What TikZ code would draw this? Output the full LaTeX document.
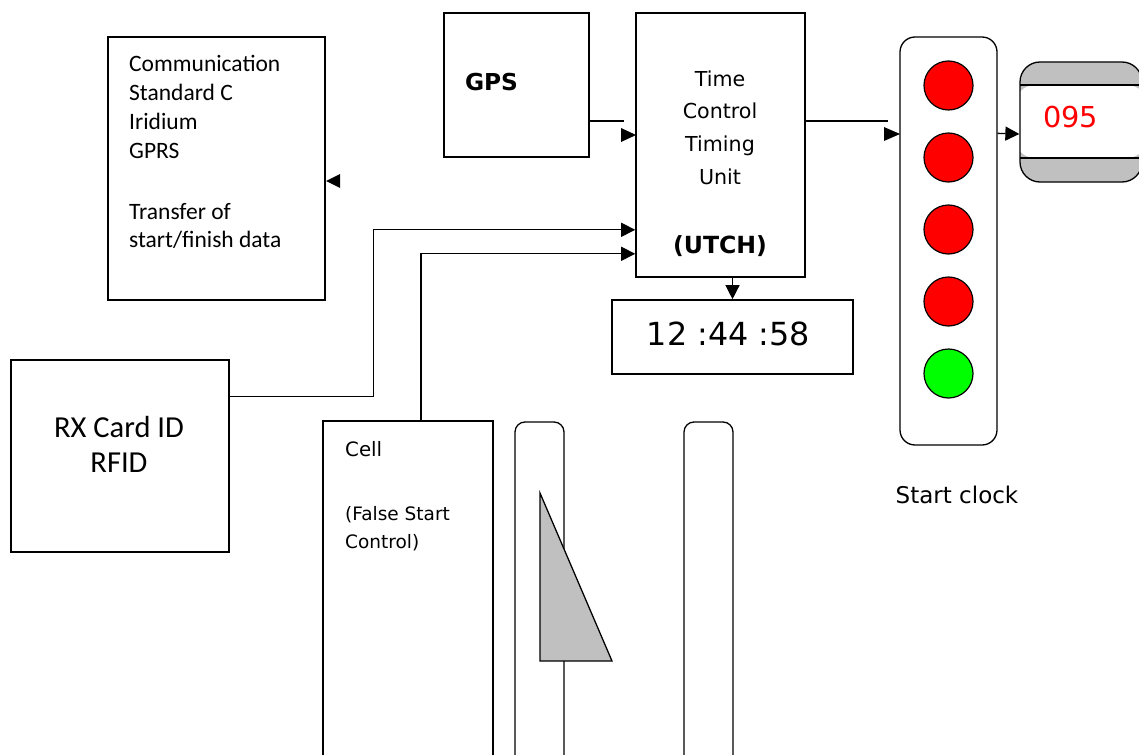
\documentclass[tikz,border=0pt]{standalone}
\usepackage{fontspec}
\usetikzlibrary{arrows.meta,calc}
\newfontfamily\carl{Carlito}
\newfontfamily\dvs{DejaVu Sans}
\definecolor{lgrey}{RGB}{192,192,192}
\definecolor{lred}{RGB}{255,0,0}
\definecolor{lgreen}{RGB}{0,255,0}
\newcommand{\fs}[1]{\fontsize{#1}{#1}\selectfont}
\begin{document}
\begin{tikzpicture}[x=1pt,y=-1pt,
  box/.style={draw,line width=1.6pt,rectangle,inner sep=0pt},
  rbox/.style={draw,line width=1.3pt,rectangle,rounded corners=#1,inner sep=0pt},
  lamp/.style={draw,line width=1.2pt,circle,inner sep=0pt,minimum size=49pt},
  conn/.style={line width=1.3pt},
  arr/.style={line width=1.3pt,-{Triangle[length=14pt,width=14pt]}},
  tip/.style={fill=black},
  txt/.style={inner sep=0pt,anchor=base},
  ltxt/.style={inner sep=0pt,anchor=base west}]
\useasboundingbox (0,0) rectangle (1139,754);
\clip (0,0) rectangle (1139,754);
% boxes
\node[box,minimum width=217pt,minimum height=263pt] (comm) at (216.5,168.5) {};
\node[box,minimum width=145pt,minimum height=144pt] (gps) at (516.5,85) {};
\node[box,minimum width=169pt,minimum height=264pt] (utch) at (720.5,145) {};
\node[box,minimum width=241pt,minimum height=74pt] (disp) at (732.5,337) {};
\node[box,minimum width=218pt,minimum height=192pt] (rfid) at (120,456) {};
\node[box,minimum width=170pt,minimum height=360pt] (cell) at (408,601) {};
\node[rbox=10pt,minimum width=49pt,minimum height=360pt] (bar1) at (539.5,602) {};
\node[rbox=10pt,minimum width=49pt,minimum height=360pt] (bar2) at (708.5,602) {};
\fill[lgrey,draw=black,line width=1.3pt,line join=miter] (540,493) -- (540,661) -- (612,661) -- cycle;
% start clock housing and lamps
\node[rbox=15pt,minimum width=97pt,minimum height=408pt] (housing) at (948.5,241) {};
\node[lamp,fill=lred] (l1) at (948.5,85.5) {};
\node[lamp,fill=lred] (l2) at (948.5,157.5) {};
\node[lamp,fill=lred] (l3) at (948.5,229.5) {};
\node[lamp,fill=lred] (l4) at (948.5,301.5) {};
\node[lamp,fill=lgreen] (l5) at (948.5,373.5) {};
% counter
\node[rbox=20pt,fill=lgrey,minimum width=122pt,minimum height=120pt,
  path picture={
    \fill[white] ($(path picture bounding box.north west)+(-5,23)$) rectangle ($(path picture bounding box.south east)+(5,-24)$);
    \draw[line width=2pt] ($(path picture bounding box.north west)+(-5,23)$) -- ($(path picture bounding box.north east)+(5,23)$)
      ($(path picture bounding box.south west)+(-5,-24)$) -- ($(path picture bounding box.south east)+(5,-24)$);}] (counter) at (1081,122) {};
% connectors
\draw[conn] ($(gps.east)+(0,36)$) -- ++(34,0);
\fill[tip] (621,128) -- (636,135) -- (621,142) -- cycle;
\draw[conn] ($(utch.east)+(0,-24)$) -- ++(82,0);
\fill[tip] (884,127) -- (900,134) -- (884,141) -- cycle;
\draw[arr] ($(housing.north east)+(0,97)$) -- ($(counter.west)+(0,12)$);
\fill[tip] (340,174) -- (326,181) -- (340,188) -- cycle;
\draw[arr] ($(rfid.north east)+(0,37)$) -- ++(144,0) |- ($(utch.south west)+(0,-48)$);
\draw[arr] ($(cell.north)+(13,0)$) |- ($(utch.south west)+(0,-24)$);
\draw[arr] (disp.north |- utch.south) -- (disp.north);
% texts
\node[ltxt,font=\carl\fs{23.5}] (t1) at (129,72) {Communication};
\node[ltxt,font=\carl\fs{23.5}] (t2) at (129,101) {Standard C};
\node[ltxt,font=\carl\fs{23.5}] (t3) at (129,130) {Iridium};
\node[ltxt,font=\carl\fs{23.5}] (t4) at (129,159) {GPRS};
\node[ltxt,font=\carl\fs{23.5}] (t5) at (129,219) {Transfer of};
\node[ltxt,font=\carl\fs{23.5}] (t6) at (129,247) {start/finish data};
\node[txt,font=\dvs\bfseries\fs{23.3}] (tg) at (491.5,91) {GPS};
\node[txt,font=\dvs\fs{20.6}] (u1) at (720,87) {Time};
\node[txt,font=\dvs\fs{20.6}] (u2) at (720,119) {Control};
\node[txt,font=\dvs\fs{20.6}] (u3) at (720,152) {Timing};
\node[txt,font=\dvs\fs{20.6}] (u4) at (720,185) {Unit};
\node[txt,font=\dvs\bfseries\fs{23.6}] (u5) at (720,253) {(UTCH)};
\node[txt,font=\dvs\fs{31.8}] (td) at (728.5,345) {12 :44 :58};
\node[txt,font=\dvs\fs{28.8},text=lred] (tc) at (1070.5,128) {095};
\node[txt,font=\dvs\fs{23}] (ts) at (957,503) {Start clock};
\node[txt,font=\carl\fs{30.5}] (r1) at (119,437) {RX Card ID};
\node[txt,font=\carl\fs{30.5}] (r2) at (119,472) {RFID};
\node[ltxt,font=\dvs\fs{19.8}] (c1) at (345,456) {Cell};
\node[ltxt,font=\dvs\fs{18.5}] (c2) at (345,520) {(False Start};
\node[ltxt,font=\dvs\fs{18.5}] (c3) at (345,548) {Control)};
\end{tikzpicture}
\end{document}
